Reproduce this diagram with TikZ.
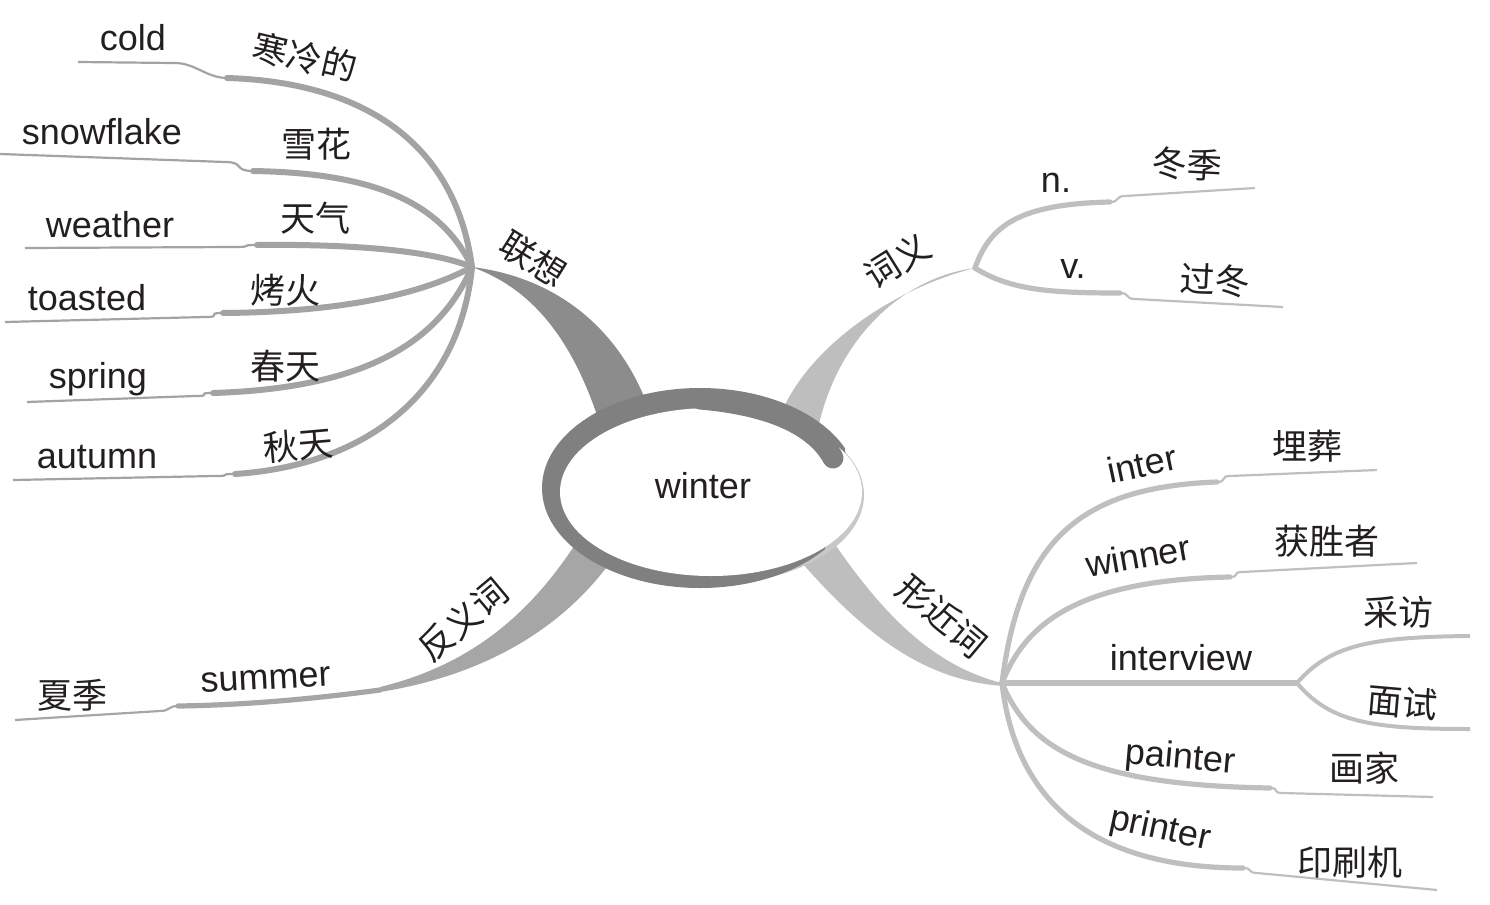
\documentclass[tikz,border=0pt]{standalone}
\usepackage{fontspec}
\setmainfont{Liberation Sans}
\newfontfamily\cjk{Noto Sans CJK SC}
\usepackage{tikz}

\definecolor{ink}{HTML}{231F20}
\definecolor{ringgray}{HTML}{808080}
\definecolor{shadowgray}{HTML}{C8C8C8}
\definecolor{bandL}{HTML}{8C8C8C}
\definecolor{bandA}{HTML}{A6A6A6}
\definecolor{bandR}{HTML}{BEBEBE}
\definecolor{leftgray}{HTML}{A3A3A3}
\definecolor{rightgray}{HTML}{BFBFBF}

\begin{document}
\begin{tikzpicture}[
  x=0.5pt, y=-0.5pt,
  every node/.style={inner sep=0pt, text=ink, font=\fontsize{18}{21}\selectfont},
  en/.style={anchor=base},
  zh/.style={font=\fontsize{17.5}{21}\selectfont\cjk},
  lineL/.style={draw=leftgray, line width=3pt, line cap=round},
  tipL/.style={draw=leftgray, line width=1.1pt},
  lineA/.style={draw=bandA, line width=2.6pt, line cap=round},
  tipA/.style={draw=bandA, line width=1.1pt},
  lineR/.style={draw=rightgray, line width=2.6pt, line cap=round},
  tipR/.style={draw=rightgray, line width=1.1pt},
]

\useasboundingbox (0,0) rectangle (1490,905);

% ---- Hubs where the branches split ----
\coordinate (hubL) at (472,267);
\coordinate (hubN) at (975,268);
\coordinate (hubF) at (1002,683);
\coordinate (hubA) at (380,690);

% ---- Thick branches from the centre ----
\fill[bandL] (hubL) .. controls (560,278) and (622,332) .. (650,412)
  -- (598,418) .. controls (570,335) and (530,288) .. (hubL) -- cycle;
\fill[bandR] (hubN) .. controls (910,276) and (840,330) .. (818,428)
  -- (776,428) .. controls (795,360) and (880,292) .. (hubN) -- cycle;
\fill[bandR] (832,540) .. controls (880,610) and (930,665) .. (hubF)
  -- (1003,686) .. controls (920,680) and (860,630) .. (795,555) -- cycle;
\fill[bandA] (578,540) .. controls (530,615) and (470,665) .. (380,687)
  -- (hubA) -- (380,692) .. controls (480,676) and (560,632) .. (612,560) -- cycle;

% ---- Association branches (left) ----
\foreach \nm/\ax/\ay/\bx/\by/\kx/\ky/\jx/\jy/\ex/\ey in {
  cold/455/140/360/82/227/78/175/63/78/62,
  snowflake/440/200/370/173/253/171/225/162/0/154,
  weather/430/250/350/244/257/245/235/247/25/248,
  toasted/420/295/340/312/223/313/205/317/5/322,
  spring/440/340/370/388/213/393/195/396/27/402,
  autumn/460/390/370/465/235/474/215/476/13/480} {
  \coordinate (\nm K) at (\kx,\ky);
  \coordinate (\nm J) at (\jx,\jy);
  \coordinate (\nm E) at (\ex,\ey);
  \draw[lineL] (hubL) .. controls (\ax,\ay) and (\bx,\by) .. (\nm K);
  \draw[tipL] (\nm K) .. controls +(-20,0) and +(20,0) .. (\nm J) -- (\nm E);
}

% ---- Meaning branches (top right) ----
\foreach \nm/\ax/\ay/\bx/\by/\kx/\ky/\jx/\jy/\ex/\ey in {
  n/990/225/1020/204/1110/202/1125/196/1255/188,
  v/1010/290/1050/293/1120/293/1135/299/1283/307} {
  \coordinate (\nm K) at (\kx,\ky);
  \coordinate (\nm J) at (\jx,\jy);
  \coordinate (\nm E) at (\ex,\ey);
  \draw[lineR] (hubN) .. controls (\ax,\ay) and (\bx,\by) .. (\nm K);
  \draw[tipR] (\nm K) .. controls +(10,0) and +(-10,0) .. (\nm J) -- (\nm E);
}

% ---- Look-alike branches (bottom right) ----
\foreach \nm/\ax/\ay/\bx/\by/\kx/\ky/\jx/\jy/\ex/\ey in {
  inter/1020/540/1080/487/1217/482/1230/476/1377/470,
  winner/1025/625/1075/580/1230/577/1242/572/1417/563,
  painter/1030/750/1090/785/1270/788/1282/793/1433/797,
  printer/1012/770/1060/868/1243/868/1257/873/1437/890} {
  \coordinate (\nm K) at (\kx,\ky);
  \coordinate (\nm J) at (\jx,\jy);
  \coordinate (\nm E) at (\ex,\ey);
  \draw[lineR] (hubF) .. controls (\ax,\ay) and (\bx,\by) .. (\nm K);
  \draw[tipR] (\nm K) .. controls +(10,0) and +(-10,0) .. (\nm J) -- (\nm E);
}
\coordinate (ivK) at (1297,683);
\coordinate (ivU) at (1470,636);
\coordinate (ivD) at (1470,729);
\draw[lineR] (hubF) -- (ivK);
\draw[tipR, line width=2pt] (ivK) .. controls (1330,645) and (1370,637) .. (ivU);
\draw[tipR, line width=2pt] (ivK) .. controls (1330,722) and (1370,729) .. (ivD);

% ---- Antonym branch (bottom left) ----
\coordinate (sumK) at (178,706);
\coordinate (sumJ) at (160,711);
\coordinate (sumE) at (15,720);
\draw[lineA] (hubA) .. controls (320,698) and (250,705) .. (sumK);
\draw[tipA] (sumK) .. controls +(-10,0) and +(10,0) .. (sumJ) -- (sumE);

% ---- Centre swoosh ----
\fill[shadowgray] (712,495) ellipse [x radius=152, y radius=89];
\begin{scope}
  \clip (520,370) -- (845,370) -- (845,470) -- (812,600) -- (520,600) -- cycle;
  \fill[ringgray] (700,488) ellipse [x radius=158, y radius=100];
\end{scope}
\fill[white] (711,492) ellipse [x radius=151, y radius=84];
\draw[ringgray, line width=10.5pt, line cap=round]
  (700,399) .. controls (770,405) and (815,425) .. (833,458);
\node[en] (winter) at (703,498) {winter};

% ---- Words ----
\foreach \nm/\x/\y/\txt in {cold/133/50/cold, snowflake/102/144/snowflake,
  weather/110/237/weather, toasted/87/310/toasted, spring/98/388/spring,
  autumn/97/468/autumn, n/1056/192/n., v/1073/278/v.,
  interview/1181/670/interview}
  \node[en] (\nm) at (\x,\y) {\txt};
\foreach \nm/\x/\y/\r in {inter/1142/464/12, winner/1138/556/10,
  painter/1180/759/-5, printer/1160/830/-12, summer/266/680/3}
  \node[rotate=\r] (\nm) at (\x,\y) {\nm};

% ---- Chinese meanings ----
\foreach \nm/\x/\y/\r/\txt in {cold/305/57/-13/寒冷的, snowflake/316/144/0/雪花,
  weather/315/218/0/天气, toasted/285/290/0/烤火, spring/285/366/0/春天,
  autumn/298/445/5/秋天, n/1187/164/-3/冬季, v/1215/280/-3/过冬,
  inter/1307/446/0/埋葬, winner/1327/541/0/获胜者, ivU/1398/612/0/采访,
  ivD/1403/702/-5/面试, painter/1364/768/0/画家, printer/1350/862/0/印刷机,
  summer/73/695/0/夏季}
  \node[zh, rotate=\r] (zh-\nm) at (\x,\y) {\txt};

% ---- Branch titles ----
\foreach \nm/\x/\y/\r/\txt in {assoc/533/259/-32/联想, meaning/897/261/32/词义,
  similar/942/616/-40/形近词, antonym/463/620/40/反义词}
  \node[zh, rotate=\r] (\nm) at (\x,\y) {\txt};

\end{tikzpicture}
\end{document}
